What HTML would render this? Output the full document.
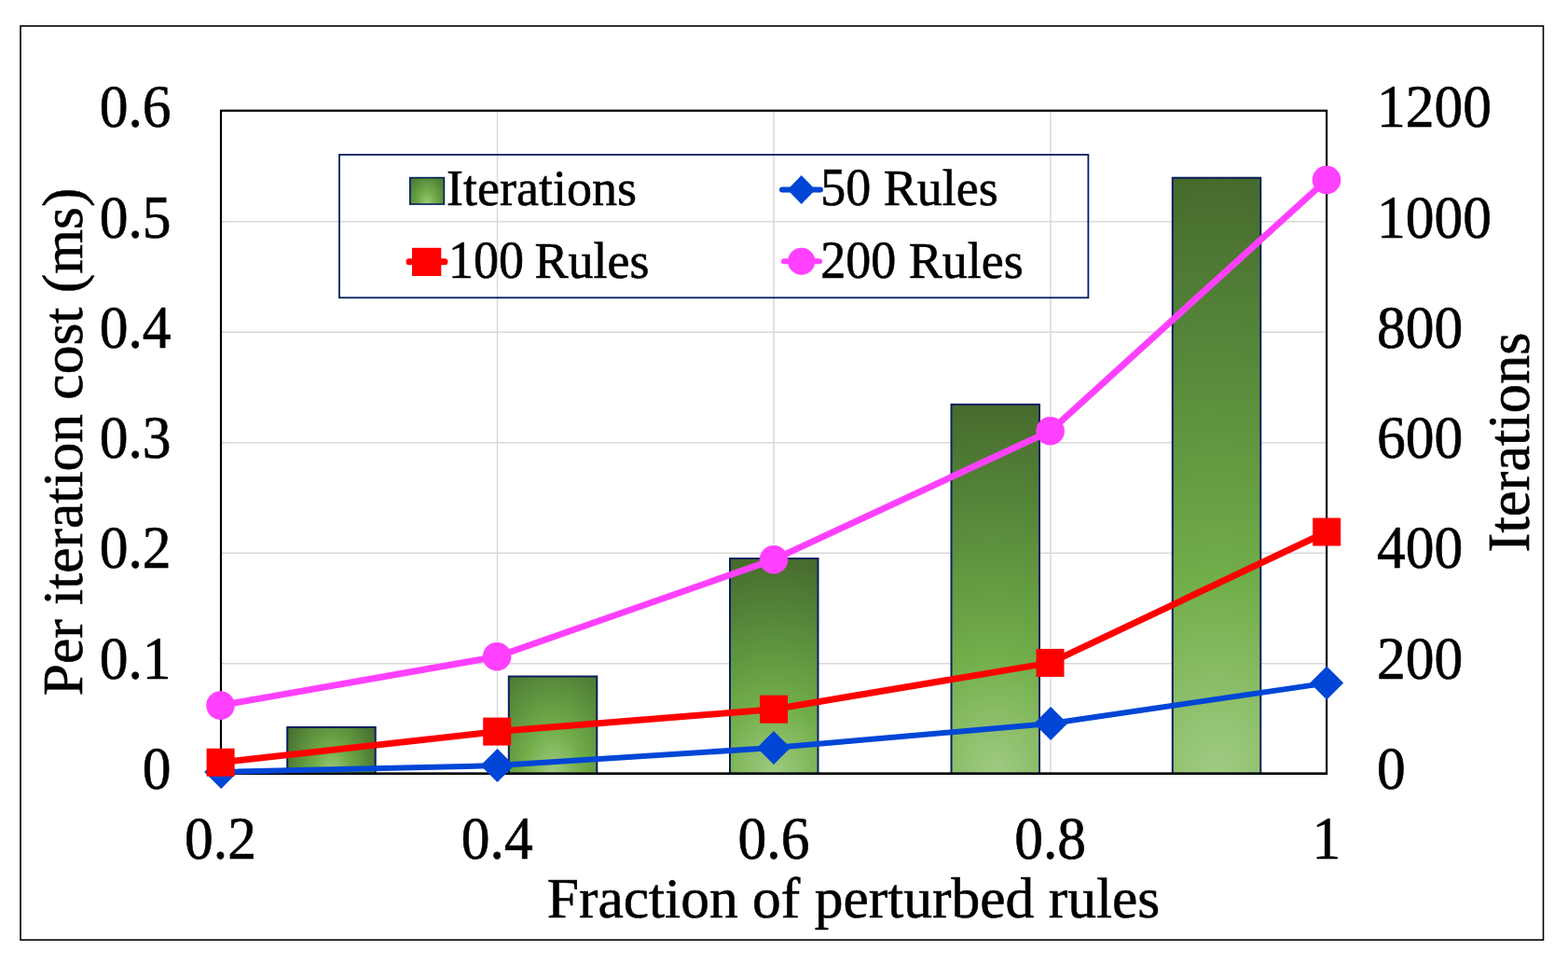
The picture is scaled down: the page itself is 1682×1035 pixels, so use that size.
<!DOCTYPE html>
<html>
<head>
<meta charset="utf-8">
<style>
html,body{margin:0;padding:0;background:#fff;}
body{width:1682px;height:1035px;overflow:hidden;}
svg{display:block;}
text{font-family:"Liberation Serif","Times New Roman",serif;fill:#000;stroke:#000;stroke-width:0.6px;}
</style>
</head>
<body>
<svg width="1682" height="1035" viewBox="0 0 1682 1035">
<defs>
<radialGradient id="g0" gradientUnits="userSpaceOnUse" cx="0" cy="0" r="1" gradientTransform="translate(355.5 829.7) scale(57 85)"><stop offset="0" stop-color="#a0cb82"/><stop offset="0.32" stop-color="#72ae4a"/><stop offset="0.7" stop-color="#56883a"/><stop offset="1" stop-color="#466a2d"/></radialGradient>
<radialGradient id="g1" gradientUnits="userSpaceOnUse" cx="0" cy="0" r="1" gradientTransform="translate(593.0 829.7) scale(95 149)"><stop offset="0" stop-color="#a0cb82"/><stop offset="0.32" stop-color="#72ae4a"/><stop offset="0.7" stop-color="#56883a"/><stop offset="1" stop-color="#466a2d"/></radialGradient>
<radialGradient id="g2" gradientUnits="userSpaceOnUse" cx="0" cy="0" r="1" gradientTransform="translate(830.2 829.7) scale(190 235)"><stop offset="0" stop-color="#a0cb82"/><stop offset="0.32" stop-color="#72ae4a"/><stop offset="0.7" stop-color="#56883a"/><stop offset="1" stop-color="#466a2d"/></radialGradient>
<radialGradient id="g3" gradientUnits="userSpaceOnUse" cx="0" cy="0" r="1" gradientTransform="translate(1067.7 829.7) scale(320 400)"><stop offset="0" stop-color="#a0cb82"/><stop offset="0.32" stop-color="#72ae4a"/><stop offset="0.7" stop-color="#56883a"/><stop offset="1" stop-color="#466a2d"/></radialGradient>
<radialGradient id="g4" gradientUnits="userSpaceOnUse" cx="0" cy="0" r="1" gradientTransform="translate(1305.1 829.7) scale(520 642)"><stop offset="0" stop-color="#a0cb82"/><stop offset="0.32" stop-color="#72ae4a"/><stop offset="0.7" stop-color="#56883a"/><stop offset="1" stop-color="#466a2d"/></radialGradient>
<radialGradient id="gLeg" gradientUnits="userSpaceOnUse" cx="0" cy="0" r="1" gradientTransform="translate(458.1 219.0) scale(27 42)"><stop offset="0" stop-color="#a0cb82"/><stop offset="0.32" stop-color="#72ae4a"/><stop offset="0.7" stop-color="#56883a"/><stop offset="1" stop-color="#466a2d"/></radialGradient>
</defs>
<rect x="0" y="0" width="1682" height="1035" fill="#fff"/>
<rect x="22" y="27.9" width="1633.5" height="980.2" fill="none" stroke="#000" stroke-width="1.6"/>
<g stroke="#d9d9d9" stroke-width="1.5" fill="none">
<line x1="237" y1="237.7" x2="1423" y2="237.7"/>
<line x1="237" y1="356.2" x2="1423" y2="356.2"/>
<line x1="237" y1="474.7" x2="1423" y2="474.7"/>
<line x1="237" y1="593.2" x2="1423" y2="593.2"/>
<line x1="237" y1="711.7" x2="1423" y2="711.7"/>
<line x1="533.5" y1="118.7" x2="533.5" y2="829.7"/>
<line x1="830" y1="118.7" x2="830" y2="829.7"/>
<line x1="1127" y1="118.7" x2="1127" y2="829.7"/>
</g>
<rect x="237" y="118.7" width="1186.1" height="711.1" fill="none" stroke="#000" stroke-width="2.2"/>
<g stroke="#0a1f5c" stroke-width="2">
<rect x="308.2" y="780" width="94.5" height="49.7" fill="url(#g0)"/>
<rect x="545.8" y="725.5" width="94.5" height="104.2" fill="url(#g1)"/>
<rect x="783.0" y="599" width="94.5" height="230.7" fill="url(#g2)"/>
<rect x="1020.5" y="433.8" width="94.5" height="395.9" fill="url(#g3)"/>
<rect x="1257.8" y="190.7" width="94.5" height="639.0" fill="url(#g4)"/>
</g>
<line x1="236" y1="829.7" x2="1424" y2="829.7" stroke="#000" stroke-width="2.2"/>
<polyline points="237.2,828 533.5,821.1 830,802.0 1127.1,776 1423.2,732.6" fill="none" stroke="#0046d6" stroke-width="6" stroke-linejoin="round" stroke-linecap="round"/>
<path d="M237.2 810 L255.2 828 L237.2 846 L219.2 828Z" fill="#0046d6"/>
<path d="M533.5 803.1 L551.5 821.1 L533.5 839.1 L515.5 821.1Z" fill="#0046d6"/>
<path d="M830 784.0 L848 802.0 L830 820.0 L812 802.0Z" fill="#0046d6"/>
<path d="M1127.1 758 L1145.1 776 L1127.1 794 L1109.1 776Z" fill="#0046d6"/>
<path d="M1423.2 714.6 L1441.2 732.6 L1423.2 750.6 L1405.2 732.6Z" fill="#0046d6"/>
<polyline points="236.6,817.7 533.2,784.6 830,760.7 1126.5,710.9 1423.2,570.5" fill="none" stroke="#ff0000" stroke-width="7" stroke-linejoin="round" stroke-linecap="round"/>
<rect x="221.6" y="802.7" width="30" height="30" fill="#ff0000"/>
<rect x="518.2" y="769.6" width="30" height="30" fill="#ff0000"/>
<rect x="815" y="745.7" width="30" height="30" fill="#ff0000"/>
<rect x="1111.5" y="695.9" width="30" height="30" fill="#ff0000"/>
<rect x="1408.2" y="555.5" width="30" height="30" fill="#ff0000"/>
<polyline points="236.5,756.6 533.1,704.3 830,600.2 1126.6,462.3 1423,193.0" fill="none" stroke="#ff40ff" stroke-width="7" stroke-linejoin="round" stroke-linecap="round"/>
<circle cx="236.5" cy="756.6" r="15.3" fill="#ff40ff"/>
<circle cx="533.1" cy="704.3" r="15.3" fill="#ff40ff"/>
<circle cx="830" cy="600.2" r="15.3" fill="#ff40ff"/>
<circle cx="1126.6" cy="462.3" r="15.3" fill="#ff40ff"/>
<circle cx="1423" cy="193.0" r="15.3" fill="#ff40ff"/>
<rect x="364" y="165.9" width="803.4" height="153.4" fill="none" stroke="#001d5e" stroke-width="1.8"/>
<rect x="439.8" y="190.6" width="36.6" height="28.4" fill="url(#gLeg)" stroke="#001d5e" stroke-width="1.6"/>
<text transform="translate(479 220) scale(1 1.0)" font-size="54" text-anchor="start">Iterations</text>
<line x1="839" y1="203.5" x2="880" y2="203.5" stroke="#0046d6" stroke-width="6" stroke-linecap="round"/>
<path d="M859.7 188 L874.7 203.5 L859.7 219 L844.7 203.5Z" fill="#0046d6"/>
<text transform="translate(880.3 220) scale(1 1.06)" font-size="54" text-anchor="start">50</text><text transform="translate(947.8 220) scale(1 1.0)" font-size="54" text-anchor="start">Rules</text>
<line x1="439" y1="280.8" x2="477" y2="280.8" stroke="#ff0000" stroke-width="7" stroke-linecap="round"/>
<rect x="442" y="265.8" width="31.3" height="30.2" fill="#ff0000"/>
<text transform="translate(481 297.6) scale(1 1.06)" font-size="54" text-anchor="start">100</text><text transform="translate(573.5 297.6) scale(1 1.0)" font-size="54" text-anchor="start">Rules</text>
<line x1="841" y1="280.3" x2="879" y2="280.3" stroke="#ff40ff" stroke-width="6" stroke-linecap="round"/>
<circle cx="859.7" cy="280.3" r="14.6" fill="#ff40ff"/>
<text transform="translate(880.3 297.6) scale(1 1.06)" font-size="54" text-anchor="start">200</text><text transform="translate(974.8 297.6) scale(1 1.0)" font-size="54" text-anchor="start">Rules</text>
<text transform="translate(183.5 136.4) scale(1 1.06)" font-size="61.5" text-anchor="end">0.6</text>
<text transform="translate(183.5 254.67) scale(1 1.06)" font-size="61.5" text-anchor="end">0.5</text>
<text transform="translate(183.5 372.93) scale(1 1.06)" font-size="61.5" text-anchor="end">0.4</text>
<text transform="translate(183.5 491.2) scale(1 1.06)" font-size="61.5" text-anchor="end">0.3</text>
<text transform="translate(183.5 609.47) scale(1 1.06)" font-size="61.5" text-anchor="end">0.2</text>
<text transform="translate(183.5 727.73) scale(1 1.06)" font-size="61.5" text-anchor="end">0.1</text>
<text transform="translate(183.5 846.0) scale(1 1.06)" font-size="61.5" text-anchor="end">0</text>
<text transform="translate(1477 136.4) scale(1 1.06)" font-size="61.5" text-anchor="start">1200</text>
<text transform="translate(1477 254.67) scale(1 1.06)" font-size="61.5" text-anchor="start">1000</text>
<text transform="translate(1477 372.93) scale(1 1.06)" font-size="61.5" text-anchor="start">800</text>
<text transform="translate(1477 491.2) scale(1 1.06)" font-size="61.5" text-anchor="start">600</text>
<text transform="translate(1477 609.47) scale(1 1.06)" font-size="61.5" text-anchor="start">400</text>
<text transform="translate(1477 727.73) scale(1 1.06)" font-size="61.5" text-anchor="start">200</text>
<text transform="translate(1477 846.0) scale(1 1.06)" font-size="61.5" text-anchor="start">0</text>
<text transform="translate(236.5 921.3) scale(1 1.06)" font-size="61.5" text-anchor="middle">0.2</text>
<text transform="translate(533.2 921.3) scale(1 1.06)" font-size="61.5" text-anchor="middle">0.4</text>
<text transform="translate(830 921.3) scale(1 1.06)" font-size="61.5" text-anchor="middle">0.6</text>
<text transform="translate(1126.6 921.3) scale(1 1.06)" font-size="61.5" text-anchor="middle">0.8</text>
<text transform="translate(1423 921.3) scale(1 1.06)" font-size="61.5" text-anchor="middle">1</text>
<text x="915.5" y="983.5" font-size="61.5" text-anchor="middle">Fraction of perturbed rules</text>
<text transform="translate(87.7 473.9) rotate(-90)" font-size="61.5" text-anchor="middle">Per iteration cost (ms)</text>
<text transform="translate(1639.5 474.4) rotate(-90)" font-size="62.5" text-anchor="middle">Iterations</text>
</svg>
</body>
</html>
